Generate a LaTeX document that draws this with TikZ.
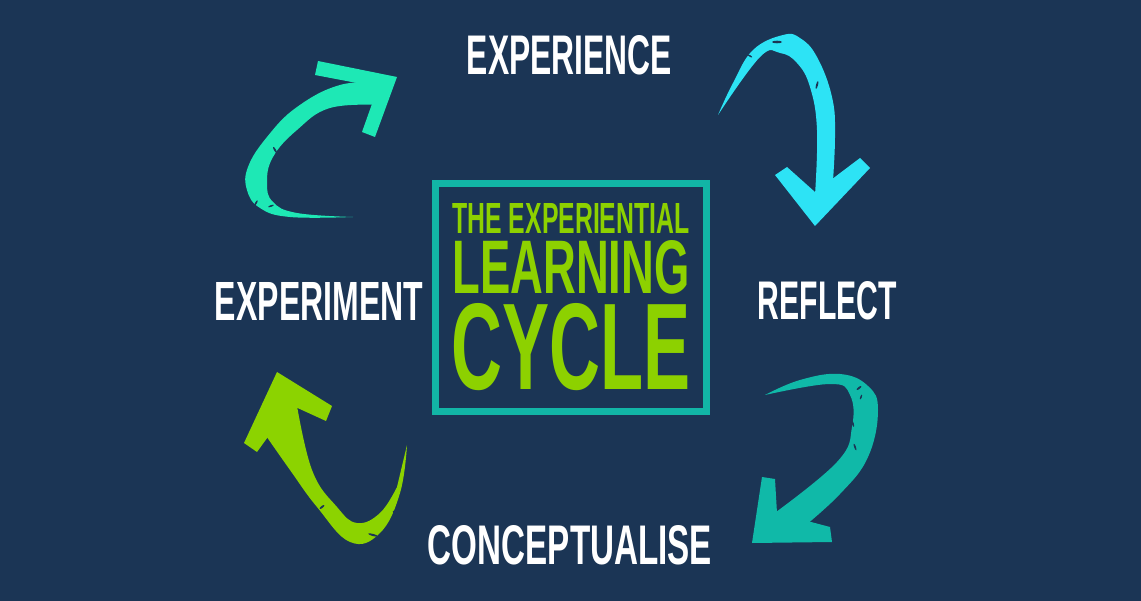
\documentclass[tikz,border=0pt]{standalone}
\usepackage{fontspec}
\setmainfont{Liberation Sans}
\usepackage{graphicx}
\definecolor{bg}{HTML}{1B3555}
\definecolor{boxteal}{HTML}{12B5A6}
\definecolor{cyanA}{HTML}{2DE3F5}
\definecolor{mintA}{HTML}{1EE8B5}
\definecolor{tealA}{HTML}{10B9A8}
\definecolor{limeA}{HTML}{8CD300}
\definecolor{limeT}{HTML}{8DD100}
\newcommand{\fitto}[3]{\resizebox{#1pt}{#2pt}{\bfseries #3}}
\begin{document}
\begin{tikzpicture}[x=1pt,y=-1pt,
  lab/.style={inner sep=0pt, outer sep=0pt, text=white, anchor=center},
  frame/.style={draw=boxteal, line width=7pt, inner sep=0pt, minimum width=271pt, minimum height=228pt, text=limeT, align=center},
  speck/.style={fill=bg}]
\fill[bg] (0,0) rectangle (1141,601);
\useasboundingbox (0,0) rectangle (1141,601);

% centre box with title
\node[frame] (box) at (571,297.5) {\fitto{237}{30}{THE EXPERIENTIAL}\\[6pt]\fitto{237}{53}{LEARNING}\\[8pt]\fitto{239}{86}{CYCLE}};

% stage labels
\node[lab] (experience) at (569.5,55.5) {\fitto{205}{39}{EXPERIENCE}};
\node[lab] (reflect) at (827.5,301) {\fitto{139}{38}{REFLECT}};
\node[lab] (conceptualise) at (570,545) {\fitto{284}{39}{CONCEPTUALISE}};
\node[lab] (experiment) at (319,301) {\fitto{208}{38}{EXPERIMENT}};

% top-right cyan arrow
\fill[cyanA] plot[smooth, tension=0.7] coordinates {(718,115) (733,83) (753,50) (783,35) (800,38) (817,57) (832,97) (835,137) (832,195)}
  -- plot[smooth, tension=0.7] coordinates {(815,195) (817,130) (810,87) (797,63) (780,53) (760,57) (718,115)} -- cycle;
\fill[cyanA] (815,226) -- (775,175) -- (787,167) -- (815,192) -- (860,158) -- (870,168) -- cycle;
\fill[speck] (777,42) ellipse [x radius=5, y radius=1.3];
\fill[speck, rotate around={65:(798,70)}] (798,70) ellipse [x radius=3.5, y radius=1];
\fill[speck, rotate around={75:(817,85)}] (817,85) ellipse [x radius=4, y radius=1];
\fill[speck, rotate around={-30:(750,56)}] (750,56) ellipse [x radius=2.5, y radius=0.8];

% top-left mint arrow
\fill[mintA] plot[smooth, tension=0.7] coordinates {(353,217) (290,217) (260,208) (247,190) (248,167) (267,137) (297,107) (340,85) (385,82)}
  -- plot[smooth, tension=0.7] coordinates {(380,105) (330,108) (297,130) (273,157) (267,183) (273,202) (297,213) (353,217)} -- cycle;
\fill[mintA] (397,77) -- (318,61) -- (315,75) -- (378,87) -- (362,132) -- (375,137) -- cycle;
\fill[speck, rotate around={-60:(275,150)}] (275,150) ellipse [x radius=3.5, y radius=1];
\fill[speck, rotate around={-80:(272,174)}] (272,174) ellipse [x radius=3, y radius=0.9];
\fill[speck, rotate around={60:(256,203)}] (256,203) ellipse [x radius=3, y radius=0.9];
\fill[speck, rotate around={20:(271,206)}] (271,206) ellipse [x radius=3, y radius=0.8];

% bottom-right teal arrow
\fill[tealA] plot[smooth, tension=0.7] coordinates {(765,395) (800,380) (840,374) (868,386) (878,410) (868,457) (840,494) (800,530)}
  -- plot[smooth, tension=0.7] coordinates {(772,515) (837,462) (852,427) (850,395) (830,384) (765,395)} -- cycle;
\fill[tealA] (752,543) -- (762,477) -- (775,479) -- (777,513) -- (830,527) -- (832,542) -- cycle;
\fill[speck, rotate around={40:(859,388)}] (859,388) ellipse [x radius=3, y radius=1];
\fill[speck, rotate around={70:(861,397)}] (861,397) ellipse [x radius=2.5, y radius=0.8];
\fill[speck, rotate around={-75:(853,424)}] (853,424) ellipse [x radius=3, y radius=0.9];
\fill[speck, rotate around={-70:(855,447)}] (855,447) ellipse [x radius=3.5, y radius=0.9];

% bottom-left lime arrow
\fill[limeA] plot[smooth, tension=0.7] coordinates {(262,430) (290,470) (317,507) (350,542) (380,533) (400,493) (407,445)}
  -- plot[smooth, tension=0.7] coordinates {(397,487) (380,513) (357,523) (337,507) (312,470) (296,400)} -- cycle;
\fill[limeA] (277,372) -- (332,406) -- (326,421) -- (291,405) -- (257,452) -- (244,443) -- cycle;
\fill[speck, rotate around={40:(322,507)}] (322,507) ellipse [x radius=3, y radius=1];
\fill[speck, rotate around={-15:(373,535)}] (373,535) ellipse [x radius=5, y radius=1.1];
\fill[speck, rotate around={-70:(394,513)}] (394,513) ellipse [x radius=2.5, y radius=0.8];
\end{tikzpicture}
\end{document}
